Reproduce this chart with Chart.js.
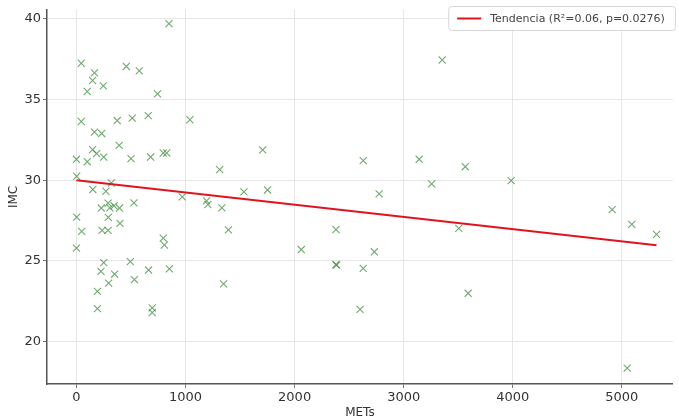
<!DOCTYPE html>
<html lang="es">
<head>
  <meta charset="UTF-8" />
  <title>IMC vs METs</title>
  <script src="https://cdn.jsdelivr.net/npm/chart.js"></script>
  <style>
    html, body { margin: 0; padding: 0; background: #fff; }
    #wrap { width: 679px; height: 420px; }
  </style>
</head>
<body>
  <div id="wrap"><canvas id="chart" width="679" height="420"></canvas></div>

  <script>
    // METs (x) and IMC (y) of each participant
    const mets = [
      848, 44, 165, 148, 99, 246, 457, 576, 743, 44,
      374, 511, 658, 1040, 165, 231, 392, 0, 99, 148,
      185, 250, 500, 680, 796, 827, 1313, 1707, 2, 320,
      150, 270, 970, 1535, 1752, 2629, 3142, 3565, 3256, 3985,
      2775, 3353,
      228, 290, 307, 345, 395, 527, 1193, 1205, 1333, 2,
      292, 399, 48, 235, 290, 796, 806, 0, 1393, 2379,
      3505, 2061, 2731, 4911, 5091, 5318,
      250, 494, 225, 350, 661, 852, 295, 531, 192, 192,
      695, 695, 1349, 2379, 2385, 2629, 3591, 2600, 5049
    ];
    const imc = [
      39.7, 37.25, 36.65, 36.18, 35.5, 35.85, 37.05, 36.78, 35.35, 33.64,
      33.7, 33.85, 34.0, 33.75, 32.98, 32.9, 32.16, 31.3, 31.15, 31.9,
      31.65, 31.43, 31.34, 31.44, 31.69, 31.69, 30.66, 31.88, 30.25, 29.83,
      29.43, 29.32, 28.97, 29.28, 29.4, 31.22, 31.3, 30.84, 29.78, 29.98,
      29.16, 37.45,
      28.28, 28.58, 28.29, 28.42, 28.28, 28.6, 28.72, 28.5, 28.29, 27.72,
      27.7, 27.33, 26.83, 26.9, 26.9, 26.42, 25.99, 25.8, 26.93, 26.95,
      27.02, 25.71, 25.57, 28.18, 27.27, 26.65,
      24.9, 24.96, 24.36, 24.18, 24.44, 24.51, 23.63, 23.85, 23.12, 22.05,
      22.1, 21.8, 23.58, 24.78, 24.74, 24.54, 23.0, 22.0, 18.36
    ];
    // fitted trend line, its two ends
    const trendX = [0, 5318];
    const trendY = [30.0, 25.97];
    const trendLabel = 'Tendencia (R²=0.06, p=0.0276)';
    const xTicks = [0, 1000, 2000, 3000, 4000, 5000];
    const yTicks = [20, 25, 30, 35, 40];

    const points = mets.map((m, i) => ({ x: m, y: imc[i] }));
    const trend = trendX.map((x, i) => ({ x: x, y: trendY[i] }));

    Chart.defaults.font.family = "'DejaVu Sans', sans-serif";
    Chart.defaults.color = '#333';

    // matplotlib-style legend inside the plot, top right, with a frame
    const boxLegend = {
      id: 'boxLegend',
      afterDraw(chart) {
        const ds = chart.data.datasets[0];
        const area = chart.chartArea;
        const ctx = chart.ctx;
        ctx.save();
        ctx.font = "11px 'DejaVu Sans', sans-serif";
        const tw = ctx.measureText(ds.label).width;
        const w = tw + 52, h = 24;
        const x = area.right - w + 2, y = 6;
        ctx.fillStyle = 'rgba(255,255,255,0.85)';
        ctx.strokeStyle = '#d6d6d6';
        ctx.lineWidth = 1;
        ctx.beginPath();
        ctx.roundRect(x + 0.5, y + 0.5, w, h, 3);
        ctx.fill();
        ctx.stroke();
        ctx.strokeStyle = ds.borderColor;
        ctx.lineWidth = 2;
        ctx.beginPath();
        ctx.moveTo(x + 9, y + h / 2 + 0.5);
        ctx.lineTo(x + 33, y + h / 2 + 0.5);
        ctx.stroke();
        ctx.fillStyle = '#444';
        ctx.textBaseline = 'middle';
        ctx.fillText(ds.label, x + 42, y + h / 2 + 1);
        ctx.restore();
      }
    };

    new Chart(document.getElementById('chart'), {
      type: 'scatter',
      data: {
        datasets: [
          {
            type: 'line',
            label: trendLabel,
            data: trend,
            borderColor: '#e0141e',
            backgroundColor: '#e0141e',
            borderWidth: 2,
            pointRadius: 0,
            fill: false,
            order: 0
          },
          {
            label: 'Datos',
            data: points,
            pointStyle: 'crossRot',
            pointRadius: 5,
            borderWidth: 1.1,
            borderColor: 'rgba(50,135,50,0.7)',
            backgroundColor: 'rgba(50,135,50,0.7)',
            order: 1
          }
        ]
      },
      options: {
        responsive: false,
        animation: false,
        layout: { padding: { top: 3, right: 0, left: 0, bottom: 0 } },
        plugins: {
          tooltip: { enabled: false },
          legend: { display: false }
        },
        scales: {
          x: {
            type: 'linear',
            min: -270,
            max: 5468,
            afterBuildTicks: s => { s.ticks = xTicks.map(v => ({ value: v })); },
            afterFit: s => { s.height = 36; },
            grid: { color: '#e6e6e6', tickLength: 4, tickColor: '#777' },
            border: { color: '#555', width: 1.5 },
            ticks: { font: { size: 13 }, padding: 2, color: '#333', callback: v => String(v) },
            title: { display: true, text: 'METs', font: { size: 12 }, padding: { top: 0, bottom: 0 }, color: '#333' }
          },
          y: {
            min: 17.38,
            max: 40.56,
            afterBuildTicks: s => { s.ticks = yTicks.map(v => ({ value: v })); },
            afterFit: s => { s.width = 47; },
            grid: { color: '#e6e6e6', tickLength: 4, tickColor: '#777' },
            border: { color: '#555', width: 1.5 },
            ticks: { font: { size: 13 }, padding: 2, color: '#333', callback: v => String(v) },
            title: { display: true, text: 'IMC', font: { size: 12 }, padding: { top: 7, bottom: 0 }, color: '#333' }
          }
        }
      },
      plugins: [boxLegend]
    });
  </script>
</body>
</html>
